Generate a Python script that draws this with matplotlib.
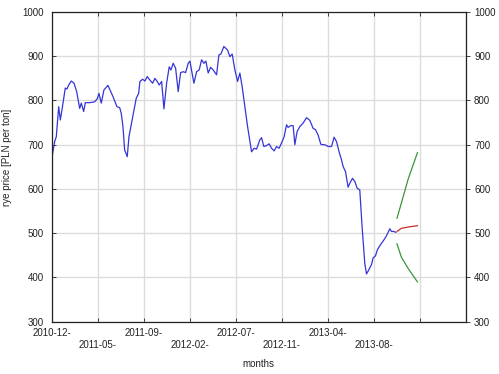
import numpy as np
import matplotlib
matplotlib.use("Agg")
import matplotlib.pyplot as plt

plt.rcParams["font.family"] = ["Liberation Sans", "DejaVu Sans"]

# weekly rye prices (week index counted from 2010-12)
weeks = [0.0, 1.17, 1.87, 2.91, 3.61, 4.35, 5.78, 6.52, 7.26, 8.39,
         9.57, 10.74, 12.04, 12.74, 13.78, 14.48, 16.39, 18.57, 19.70, 20.43,
         21.43, 22.61, 24.35, 26.52, 28.26, 29.43, 30.13, 30.87, 31.61, 32.74,
         33.48, 34.48, 35.96, 36.65, 37.70, 38.26, 39.43, 40.43, 41.43, 42.61,
         43.78, 44.78, 45.78, 46.65, 47.70, 48.70, 49.87, 51.0, 51.74, 52.74,
         53.78, 54.91, 55.96, 57.09, 58.13, 59.26, 60.0, 61.74, 62.91, 64.04,
         65.09, 66.09, 66.96, 67.96, 69.0, 70.13, 71.61, 72.61, 73.48, 74.78,
         76.39, 77.39, 78.39, 79.57, 80.74, 81.74, 82.74, 83.91, 85.09, 86.83,
         87.96, 89.0, 90.43, 91.17, 92.17, 93.35, 94.48, 95.52, 96.65, 97.70,
         98.83, 99.87, 101.0, 102.04, 102.74, 103.78, 104.91, 105.65, 106.65, 107.83,
         109.26, 110.74, 112.17, 113.61, 114.65, 115.78, 116.96, 117.96, 118.70, 120.13,
         121.61, 122.74, 123.78, 124.91, 125.96, 126.65, 127.70, 128.83, 129.57, 130.74,
         131.74, 132.74, 133.91, 134.91, 136.09, 136.83, 137.83, 139.0, 139.70, 140.74,
         141.61, 142.91, 144.04, 145.52, 146.96, 147.70, 148.70, 149.57]
price = [672, 707, 718, 786, 756, 779, 828, 826, 835, 844,
         839, 820, 782, 794, 775, 795, 795, 797, 804, 816,
         794, 824, 834, 809, 786, 784, 771, 741, 688, 673,
         718, 745, 786, 805, 816, 843, 848, 844, 854, 846,
         839, 850, 843, 835, 843, 781, 839, 876, 869, 884,
         873, 820, 863, 865, 863, 884, 889, 839, 865, 869,
         892, 884, 889, 862, 875, 869, 858, 903, 905, 922,
         914, 899, 905, 869, 843, 862, 831, 786, 741, 684,
         692, 690, 711, 716, 696, 698, 702, 692, 686, 696,
         692, 704, 718, 745, 739, 743, 743, 700, 730, 741,
         749, 761, 755, 737, 734, 722, 701, 700, 700, 696,
         696, 717, 707, 684, 666, 651, 639, 604, 613, 624,
         617, 602, 598, 515, 432, 408, 417, 429, 444, 449,
         463, 474, 482, 494, 510, 504, 504, 502]

# forecast with bounds
fc_weeks = [150.1, 152.0, 155.0, 159.0]
fc_mid = [504, 511, 514, 517]
fc_upper = [534, 568, 623, 682]
fc_lower = [476, 446, 420, 390]

tick_labels = ["2010-12-", "2011-05-", "2011-09-", "2012-02-", "2012-07-",
               "2012-11-", "2013-04-", "2013-08-", "", ""]

fig = plt.figure(figsize=(4.99, 3.74), dpi=100)
ax = fig.add_axes([0.1042, 0.1398, 0.8291, 0.8282])

ax.plot(weeks, price, color="#3535d8", lw=0.9)
ax.plot(fc_weeks, fc_mid, color="#cc2a2a", lw=0.9)
ax.plot(fc_weeks, fc_upper, color="#3a943a", lw=0.9)
ax.plot(fc_weeks, fc_lower, color="#3a943a", lw=0.9)

ax.set_xlim(0, 180)
ax.set_ylim(300, 1000)
ax.set_yticks(np.arange(300, 1001, 100))
xt = np.arange(0, 181, 20)
ax.set_xticks(xt)
ax.set_xticklabels([])
ax.grid(True, color="#dcdcdc", lw=1.0)
ax.set_axisbelow(True)

ax.tick_params(axis="both", labelsize=7, length=3, width=0.6, colors="#222222")
ax.tick_params(axis="x", direction="in", top=True)
ax.tick_params(axis="y", direction="in", right=False, pad=6)
for s in ax.spines.values():
    s.set_linewidth(0.9)
    s.set_color("#222222")

# right-side axis with outward ticks
ax2 = ax.twinx()
ax2.set_ylim(300, 1000)
ax2.set_yticks(np.arange(300, 1001, 100))
ax2.tick_params(axis="y", labelsize=7, length=3, width=0.6, direction="out",
                pad=3, colors="#222222")
for s in ax2.spines.values():
    s.set_visible(False)

# staggered date labels
for i, (x, lab) in enumerate(zip(xt, tick_labels)):
    yoff = -0.035 if i % 2 == 0 else -0.075
    ax.text(x, yoff, lab, transform=ax.get_xaxis_transform(), ha="center",
            va="center", fontsize=7, color="#222222")

ax.text(0.5, -0.137, "months", transform=ax.transAxes, ha="center",
        va="center", fontsize=7, color="#222222")
ax.set_ylabel("rye price [PLN per ton]", fontsize=7, color="#222222")
ax.yaxis.set_label_coords(-0.097, 0.532)

fig.savefig("out.png", dpi=100)
